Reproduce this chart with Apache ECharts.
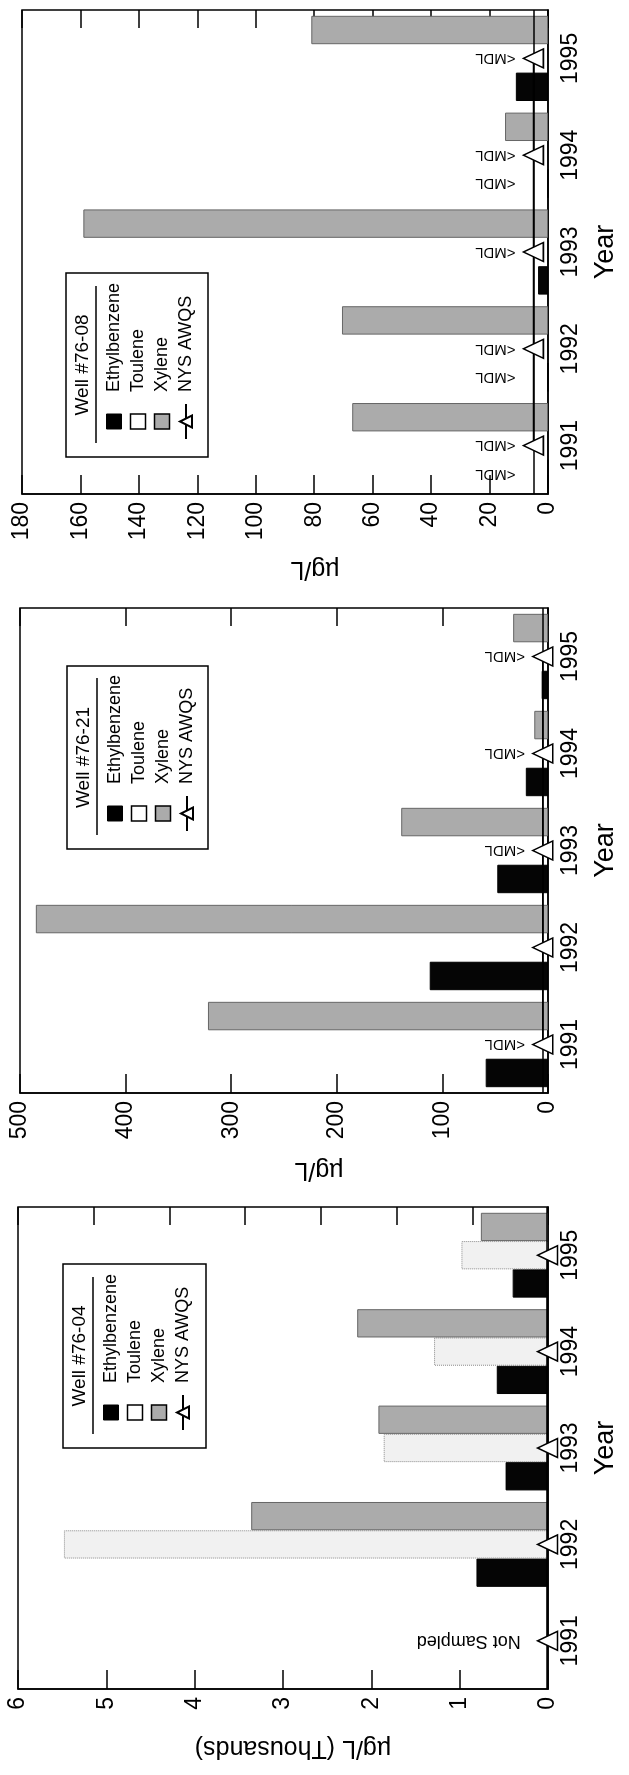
<!DOCTYPE html>
<html>
<head>
<meta charset="utf-8">
<script src="https://cdn.jsdelivr.net/npm/echarts@6/dist/echarts.min.js"></script>
<style>
html, body { margin: 0; padding: 0; background: #fff; width: 629px; height: 1775px; overflow: hidden; }
#wrap { position: absolute; left: 0; top: 0; width: 1775px; height: 629px; transform-origin: 0 0; transform: translateY(1775px) rotate(-90deg); }
#chart { width: 1775px; height: 629px; }
</style>
</head>
<body>
<div id="wrap"><div id="chart"></div></div>
<script>
// ---- data ----
const years = ['1991', '1992', '1993', '1994', '1995'];

// Well #76-04 (µg/L, thousands)
const w04Ethyl = [null, 0.81, 0.48, 0.58, 0.40];
const w04Toluene = [null, 5.48, 1.86, 1.29, 0.98];
const w04Xylene = [null, 3.36, 1.92, 2.16, 0.76];
const w04Awqs = [0.005, 0.005, 0.005, 0.005, 0.005];
const w04AwqsNotes = ['Not Sampled', '', '', '', ''];
const w04EthylNotes = ['', '', '', '', ''];

// Well #76-21 (µg/L)
const w21Ethyl = [59, 112, 48, 21, 6];
const w21Toluene = [null, null, null, null, null];
const w21Xylene = [322, 485, 139, 13, 33];
const w21Awqs = [5, 5, 5, 5, 5];
const w21AwqsNotes = ['<MDL', '', '<MDL', '<MDL', '<MDL'];
const w21EthylNotes = ['', '', '', '', ''];

// Well #76-08 (µg/L)
const w08Ethyl = [0, 0, 3.4, 0, 11];
const w08Toluene = [null, null, null, null, null];
const w08Xylene = [67, 70.5, 159, 14.7, 81];
const w08Awqs = [5, 5, 5, 5, 5];
const w08AwqsNotes = ['<MDL', '<MDL', '<MDL', '<MDL', '<MDL'];
const w08EthylNotes = ['<MDL', '<MDL', '', '<MDL', ''];

// standard level drawn across each panel
const awqsLevel = [0.005, 5, 5];

// axis scales
const valueMax = [6, 500, 180];
const valueInterval = [1, 100, 20];
const mirrorMax = [7, 500, 180];
const mirrorInterval = [1, 100, 20];
const wellTitles = ['Well #76-04', 'Well #76-21', 'Well #76-08'];
const valueNames = ['\u00b5g/L (Thousands)', '\u00b5g/L', '\u00b5g/L'];

// ---- layout (unrotated coordinates) ----
const FONT = '"Liberation Sans", Arial, Helvetica, sans-serif';
const grids = [
  { left: 86, top: 18, width: 482, height: 530 },
  { left: 682, top: 20, width: 485, height: 528 },
  { left: 1281, top: 22, width: 484, height: 526 }
];
const legendBoxes = [
  { x: 327, y: 63, w: 184, h: 143 },
  { x: 926, y: 67, w: 183, h: 141 },
  { x: 1318, y: 66, w: 184, h: 142 }
];
const nameGaps = [46, 64, 62];
const nameShift = [20, 70, 60];

const wells = [
  { ethyl: w04Ethyl, ethylNotes: w04EthylNotes, toluene: w04Toluene, xylene: w04Xylene, awqs: w04Awqs, awqsNotes: w04AwqsNotes },
  { ethyl: w21Ethyl, ethylNotes: w21EthylNotes, toluene: w21Toluene, xylene: w21Xylene, awqs: w21Awqs, awqsNotes: w21AwqsNotes },
  { ethyl: w08Ethyl, ethylNotes: w08EthylNotes, toluene: w08Toluene, xylene: w08Xylene, awqs: w08Awqs, awqsNotes: w08AwqsNotes }
];

const noteLabel = (dist, text) => ({
  show: true, position: 'top', distance: dist, rotate: 90,
  align: 'left', verticalAlign: 'middle', formatter: text,
  fontFamily: FONT, fontSize: text === 'Not Sampled' ? 18 : 15, color: '#000'
});

const option = {
  animation: false,
  backgroundColor: '#fff',
  grid: [], xAxis: [], yAxis: [], series: [], legend: [], graphic: []
};

wells.forEach((w, i) => {
  const g = grids[i];
  option.grid.push(Object.assign({ show: true, borderColor: '#000', borderWidth: 1.5, backgroundColor: 'transparent' }, g));
  option.xAxis.push({
    type: 'category', gridIndex: i, data: years, boundaryGap: true,
    axisLine: { show: true, lineStyle: { color: '#000', width: 1.5 } },
    axisTick: { show: false },
    axisLabel: { color: '#000', fontFamily: FONT, fontSize: 23, margin: 11 },
    name: 'Year', nameLocation: 'middle', nameGap: 44,
    nameTextStyle: { color: '#000', fontFamily: FONT, fontSize: 27 }
  });
  option.yAxis.push({
    type: 'value', gridIndex: i, min: 0, max: valueMax[i], interval: valueInterval[i],
    axisLine: { show: true, lineStyle: { color: '#000', width: 1.5 } },
    axisTick: { show: true, inside: true, length: 19, lineStyle: { color: '#000', width: 1.5 } },
    splitLine: { show: false },
    axisLabel: { color: '#000', fontFamily: FONT, fontSize: 23, margin: 8 },
    name: valueNames[i], nameLocation: 'middle', nameGap: nameGaps[i], nameRotate: 90,
    nameTextStyle: { color: '#000', fontFamily: FONT, fontSize: 25, padding: [0, nameShift[i], 0, 0] }
  });
  option.yAxis.push({
    type: 'value', gridIndex: i, position: 'right', min: 0, max: mirrorMax[i], interval: mirrorInterval[i],
    axisLine: { show: false },
    axisTick: { show: true, inside: true, length: 18, lineStyle: { color: '#000', width: 1.5 } },
    splitLine: { show: false },
    axisLabel: { show: false }
  });
  const yIdx = i * 2;
  const mk = (vals, notes, dist) => vals.map((v, k) => {
    const n = notes[k];
    if (!n) return v;
    return { value: v, label: noteLabel(dist, n) };
  });
  option.series.push({
    name: 'Ethylbenzene', type: 'bar', xAxisIndex: i, yAxisIndex: yIdx,
    data: mk(w.ethyl, w.ethylNotes, 32), barGap: '0%', barCategoryGap: '12%',
    itemStyle: { color: '#050505', borderColor: '#000', borderWidth: 1 }
  });
  option.series.push({
    name: 'Toulene', type: 'bar', xAxisIndex: i, yAxisIndex: yIdx,
    data: w.toluene, barGap: '0%', barCategoryGap: '12%',
    itemStyle: { color: '#f1f1f1', borderColor: '#8a8a8a', borderWidth: 1, borderType: 'dotted' }
  });
  option.series.push({
    name: 'Xylene', type: 'bar', xAxisIndex: i, yAxisIndex: yIdx,
    data: w.xylene, barGap: '0%', barCategoryGap: '12%',
    itemStyle: { color: '#ababab', borderColor: '#666', borderWidth: 1 }
  });
  option.series.push({
    name: 'NYS AWQS', type: 'line', xAxisIndex: i, yAxisIndex: yIdx,
    data: mk(w.awqs, w.awqsNotes, i === 0 ? 16 : 7),
    symbol: 'triangle', symbolSize: [19, 20], showAllSymbol: true,
    lineStyle: { color: '#000', width: 1.5 },
    itemStyle: { color: '#fff', borderColor: '#000', borderWidth: 1.5 },
    markLine: {
      silent: true, symbol: 'none', label: { show: false },
      lineStyle: { color: '#000', width: 1.5, type: 'solid' },
      emphasis: { disabled: true },
      data: [{ yAxis: awqsLevel[i] }]
    },
    z: 5
  });

  const b = legendBoxes[i];
  option.graphic.push({
    type: 'rect', z: 3, shape: { x: b.x, y: b.y, width: b.w, height: b.h },
    style: { fill: '#fff', stroke: '#000', lineWidth: 1.5 }
  });
  option.graphic.push({
    type: 'text', z: 4, x: b.x + b.w / 2, y: b.y + 17,
    style: { text: wellTitles[i], fill: '#000', font: '19px ' + FONT, textAlign: 'center', textVerticalAlign: 'middle' }
  });
  option.graphic.push({
    type: 'line', z: 4, shape: { x1: b.x + 14, y1: b.y + 30, x2: b.x + 171, y2: b.y + 30 },
    style: { stroke: '#000', lineWidth: 1.5 }
  });
  option.legend.push({
    left: b.x + 17, top: b.y + 39, orient: 'vertical', padding: 0, itemGap: 6,
    itemWidth: 35, itemHeight: 15, z: 10, selectedMode: false,
    textStyle: { color: '#000', fontFamily: FONT, fontSize: 18, padding: [0, 0, 0, 7] },
    data: [
      { name: 'Ethylbenzene', icon: 'path://M0,0L10,0L10,10L0,10Z', itemStyle: { color: '#000', borderColor: '#000', borderWidth: 1 } },
      { name: 'Toulene', icon: 'path://M0,0L10,0L10,10L0,10Z', itemStyle: { color: '#fff', borderColor: '#000', borderWidth: 1.5, borderType: 'solid' } },
      { name: 'Xylene', icon: 'path://M0,0L10,0L10,10L0,10Z', itemStyle: { color: '#ababab', borderColor: '#000', borderWidth: 1.5 } },
      { name: 'NYS AWQS' }
    ]
  });
});

const chart = echarts.init(document.getElementById('chart'), null, { renderer: 'canvas' });
chart.setOption(option);
</script>
</body>
</html>
